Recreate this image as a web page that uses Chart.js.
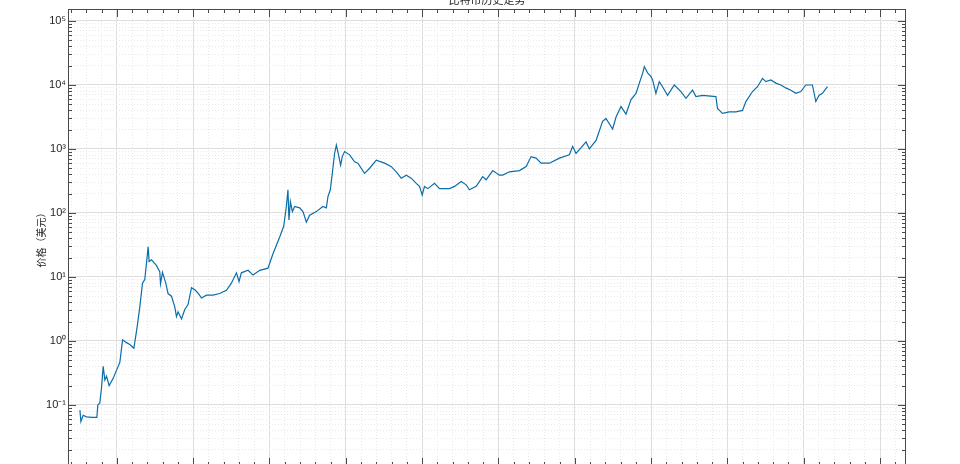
<!DOCTYPE html>
<html>
<head>
<meta charset="utf-8">
<script src="https://cdn.jsdelivr.net/npm/chart.js@4"></script>
<style>
  html, body { margin: 0; padding: 0; background: #fff; overflow: hidden; }
  #wrap { position: relative; width: 960px; height: 464px; overflow: hidden; }
  #title { position: absolute; top: -9px; left: 0; width: 974px; text-align: center;
           font: 11px "Noto Sans CJK SC"; color: #262626; }
  canvas { display: block; }
</style>
</head>
<body>
<div id="wrap">
  <div id="title">比特币历史走势</div>
  <canvas id="btc" width="960" height="468"></canvas>
</div>
<script>
// price history (decimal year, USD)
const years = [
  2010.516, 2010.529, 2010.559, 2010.603, 2010.673, 2010.738, 2010.751, 2010.777, 2010.800, 2010.821,
  2010.843, 2010.865, 2010.899, 2010.952, 2011.017, 2011.039, 2011.075, 2011.127, 2011.170, 2011.223,
  2011.266, 2011.301, 2011.336, 2011.366, 2011.410, 2011.423, 2011.454, 2011.520, 2011.563, 2011.572,
  2011.598, 2011.641, 2011.671, 2011.716, 2011.759, 2011.781, 2011.802, 2011.847, 2011.890, 2011.933,
  2011.978, 2012.021, 2012.064, 2012.109, 2012.174, 2012.260, 2012.348, 2012.436, 2012.501, 2012.567,
  2012.601, 2012.632, 2012.719, 2012.784, 2012.872, 2012.980, 2013.046, 2013.134, 2013.186, 2013.221,
  2013.242, 2013.255, 2013.274, 2013.300, 2013.330, 2013.395, 2013.439, 2013.483, 2013.526, 2013.614,
  2013.700, 2013.745, 2013.766, 2013.797, 2013.823, 2013.853, 2013.876, 2013.910, 2013.932, 2013.954,
  2013.984, 2014.050, 2014.115, 2014.158, 2014.246, 2014.312, 2014.399, 2014.508, 2014.596, 2014.661,
  2014.726, 2014.792, 2014.857, 2014.923, 2014.966, 2015.001, 2015.031, 2015.075, 2015.162, 2015.228,
  2015.359, 2015.424, 2015.512, 2015.577, 2015.620, 2015.708, 2015.794, 2015.839, 2015.925, 2016.013,
  2016.056, 2016.144, 2016.275, 2016.363, 2016.428, 2016.493, 2016.559, 2016.668, 2016.798, 2016.929,
  2016.972, 2017.017, 2017.148, 2017.191, 2017.279, 2017.365, 2017.409, 2017.496, 2017.541, 2017.606,
  2017.671, 2017.737, 2017.802, 2017.846, 2017.889, 2017.911, 2017.954, 2017.999, 2018.020, 2018.063,
  2018.107, 2018.150, 2018.216, 2018.304, 2018.391, 2018.457, 2018.543, 2018.588, 2018.674, 2018.849,
  2018.870, 2018.936, 2019.024, 2019.111, 2019.198, 2019.242, 2019.329, 2019.394, 2019.460, 2019.504,
  2019.570, 2019.635, 2019.700, 2019.766, 2019.831, 2019.897, 2019.962, 2020.027, 2020.114, 2020.158,
  2020.202, 2020.245, 2020.311
];
const prices = [
  0.083, 0.055, 0.069, 0.065, 0.064, 0.064, 0.10, 0.107, 0.19, 0.40,
  0.245, 0.28, 0.20, 0.26, 0.40, 0.46, 1.04, 0.94, 0.88, 0.77,
  1.66, 3.4, 8, 9.1, 29.5, 17.4, 18.5, 15, 12, 7.8,
  11.8, 8, 5.5, 5, 3.4, 2.4, 2.85, 2.2, 3.1, 3.7,
  6.8, 6.3, 5.6, 4.7, 5.2, 5.2, 5.5, 6.2, 8, 11.6,
  8.5, 11.6, 12.7, 10.7, 12.7, 13.7, 23, 42, 62, 126,
  230, 78, 150, 105, 126, 120, 105, 72, 92, 105,
  126, 120, 180, 230, 415, 850, 1150, 760, 560, 760,
  910, 810, 630, 600, 415, 500, 670, 600, 530, 440,
  350, 390, 350, 290, 260, 190, 260, 240, 290, 240,
  240, 260, 310, 275, 230, 260, 370, 330, 460, 390,
  390, 440, 460, 530, 760, 720, 600, 600, 720, 810,
  1090, 850, 1290, 1000, 1360, 2700, 3000, 2050, 3150, 4600,
  3500, 5900, 7400, 10700, 15200, 19400, 15500, 13500, 12000, 7400,
  11300, 9400, 6900, 10000, 7900, 6200, 8300, 6600, 6900, 6600,
  4300, 3600, 3800, 3800, 4000, 5500, 7900, 9400, 12700, 11300,
  12000, 10700, 10000, 9000, 8300, 7400, 7900, 10000, 10000, 5500,
  6900, 7400, 9400
];

// axis limits and tick positions
const xMin = 2010.36, xMax = 2021.34;
const yMin = 0.0111, yMax = 154000;
const tickYears = [2011, 2012, 2013, 2014, 2015, 2016, 2017, 2018, 2019, 2020, 2021];
const minorPerYear = 5;
const decades = [-2, -1, 0, 1, 2, 3, 4, 5];
const supers = { '-': '⁻', '0': '⁰', '1': '¹', '2': '²', '3': '³', '4': '⁴', '5': '⁵', '6': '⁶', '7': '⁷', '8': '⁸', '9': '⁹' };

const xTickValues = [];
for (let y = tickYears[0] - 1; y <= tickYears[tickYears.length - 1]; y++) {
  for (let k = 0; k < minorPerYear; k++) {
    const v = y + k / minorPerYear;
    if (v >= xMin && v <= xMax) xTickValues.push(v);
  }
}
const yTickValues = [];
for (const e of decades) {
  for (let m = 1; m <= 9; m++) {
    const v = m * Math.pow(10, e);
    if (v >= yMin && v <= yMax) yTickValues.push(v);
  }
}

const isWhole = v => Math.abs(v - Math.round(v)) < 1e-6;
const isDecade = v => isWhole(Math.log10(v));
const supLabel = v => '10' + String(Math.round(Math.log10(v))).split('').map(c => supers[c]).join('');

const MAJOR_GRID = '#dedede';
const MINOR_GRID = '#e9e9e9';

// MATLAB-style box with inward ticks on all four sides
const boxTicks = {
  id: 'boxTicks',
  afterDraw(chart) {
    const { ctx, chartArea: a, scales: { x, y } } = chart;
    ctx.save();
    ctx.strokeStyle = '#4a4a4a';
    ctx.lineWidth = 1;
    ctx.beginPath();
    for (const t of y.ticks) {
      const py = Math.round(y.getPixelForValue(t.value)) + 0.5;
      const len = isDecade(t.value) ? 8 : 4;
      ctx.moveTo(a.left, py); ctx.lineTo(a.left + len, py);
      ctx.moveTo(a.right, py); ctx.lineTo(a.right - len, py);
    }
    for (const t of x.ticks) {
      const px = Math.round(x.getPixelForValue(t.value)) + 0.5;
      const len = isWhole(t.value) ? 8 : 4;
      ctx.moveTo(px, a.top); ctx.lineTo(px, a.top + len);
      ctx.moveTo(px, a.bottom); ctx.lineTo(px, a.bottom - len);
    }
    ctx.stroke();
    ctx.strokeRect(Math.round(a.left) + 0.5, Math.round(a.top) + 0.5,
                   Math.round(a.width) - 1, Math.round(a.height));
    ctx.restore();
  }
};

new Chart(document.getElementById('btc'), {
  type: 'line',
  data: {
    datasets: [{
      data: years.map((t, i) => ({ x: t, y: prices[i] })),
      borderColor: '#0b6ea8',
      borderWidth: 1.2,
      pointRadius: 0,
      tension: 0
    }]
  },
  options: {
    responsive: false,
    animation: false,
    layout: { padding: { top: 9, right: 54, bottom: 2, left: 0 } },
    plugins: { legend: { display: false }, tooltip: { enabled: false } },
    scales: {
      x: {
        type: 'linear',
        min: xMin,
        max: xMax,
        afterBuildTicks: s => { s.ticks = xTickValues.map(v => ({ value: v })); },
        afterFit: s => { s.height = 0; s.paddingLeft = 0; s.paddingRight = 0; },
        ticks: { display: false },
        grid: {
          drawTicks: false,
          color: c => (c.tick && isWhole(c.tick.value)) ? MAJOR_GRID : MINOR_GRID
        },
        border: {
          display: false,
          dash: c => (c.tick && !isWhole(c.tick.value)) ? [1, 2] : []
        }
      },
      y: {
        type: 'logarithmic',
        min: yMin,
        max: yMax,
        afterBuildTicks: s => { s.ticks = yTickValues.map(v => ({ value: v })); },
        afterFit: s => { s.width = 68; s.paddingTop = 0; s.paddingBottom = 0; },
        ticks: {
          autoSkip: false,
          padding: 2,
          color: '#262626',
          font: { family: 'Liberation Sans', size: 11 },
          callback: v => isDecade(v) ? supLabel(v) : ''
        },
        grid: {
          drawTicks: false,
          color: c => (c.tick && isDecade(c.tick.value)) ? MAJOR_GRID : MINOR_GRID
        },
        border: {
          display: false,
          dash: c => (c.tick && !isDecade(c.tick.value)) ? [1, 2] : []
        },
        title: {
          display: true,
          text: '价格（美元）',
          color: '#262626',
          font: { family: 'Noto Sans CJK SC', size: 10 },
          padding: { top: 35, bottom: 0 }
        }
      }
    }
  },
  plugins: [boxTicks]
});
</script>
</body>
</html>
